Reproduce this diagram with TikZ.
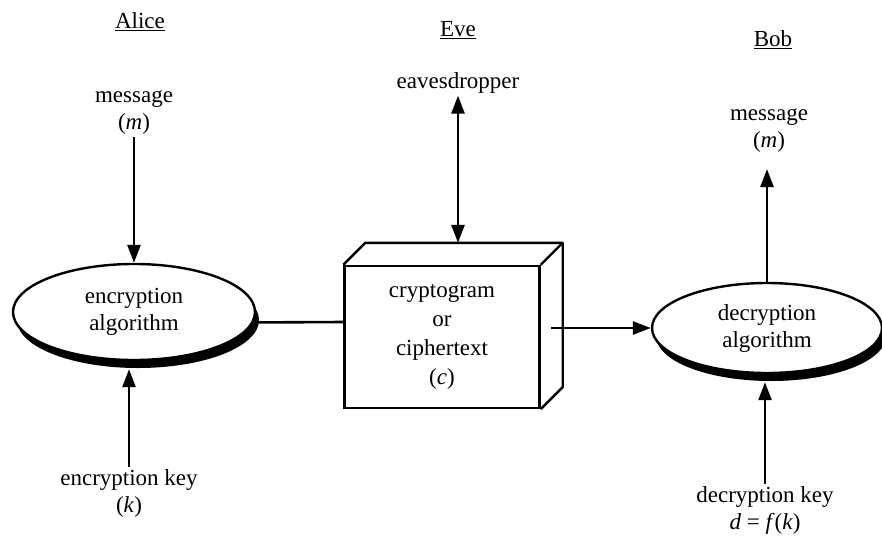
\documentclass[tikz,border=0pt]{standalone}
\usepackage{fontspec}
\setmainfont{Liberation Serif}
\usetikzlibrary{arrows.meta,shapes.geometric,shadows}

\begin{document}
\begin{tikzpicture}[x=1pt,y=-1pt,font=\fontsize{23}{27}\selectfont]
	\tikzstyle{txt}=[align=center,inner sep=2pt]
	\tikzstyle{alg}=[ellipse,draw=black,line width=2.4pt,fill=white,align=center,inner sep=0pt,
		drop shadow={shadow xshift=4pt,shadow yshift=-8pt,fill=black,opacity=1}]
	\tikzstyle{arr}=[line width=2.6pt,-{Triangle[length=18pt,width=13pt]}]
	\tikzstyle{dblarr}=[line width=2.6pt,{Triangle[length=18pt,width=13pt]}-{Triangle[length=18pt,width=13pt]}]
	\useasboundingbox (0,0) rectangle (882,538);

	% the three parties
	\node[txt](alice) at (140,22){\underline{Alice}};
	\node[txt](eve) at (458,30){\underline{Eve}};
	\node[txt](bob) at (773,40){\underline{Bob}};

	% Alice
	\node[txt](msgA) at (134,113){message\\(\textit{m})};
	\node[alg,minimum width=242pt,minimum height=96pt](encalg) at (134,312){encryption\\algorithm};
	\node[txt](enckey) at (129,493){encryption key\\(\textit{k})};

	% Eve and the channel
	\node[txt](eaves) at (458,83){eavesdropper};
	\node[txt,draw=black,line width=2.4pt,minimum width=195pt,minimum height=142pt,
		font=\fontsize{23}{29}\selectfont](crypto) at (442,337){cryptogram\\or\\ciphertext\\(\textit{c})};
	\draw[line width=2.4pt,line join=round] (crypto.north west) -- ++(22,-22)
		-| ([shift={(22,-22)}]crypto.south east) -- (crypto.south east);
	\draw[line width=2.4pt] (crypto.north east) -- ++(22,-22);
	\coordinate (cryptotop) at ([shift={(11,-22)}]crypto.north);

	% Bob
	\node[alg,minimum width=230pt,minimum height=90pt](decalg) at (767,328){decryption\\algorithm};
	\node[txt](msgB) at (769,131){message\\(\textit{m})};
	\node[txt](deckey) at (765,510){decryption key\\\textit{d} = \textit{f}(\textit{k})};

	\path[-]
		(msgA) edge[arr] (encalg)
		(enckey.north) edge[arr,shorten >=8pt] (enckey.north |- encalg.south)
		(encalg.-5) edge[line width=2.6pt] ([yshift=15pt]crypto.west)
		(eaves) edge[dblarr] (eaves.south |- cryptotop)
		([shift={(10,-9)}]crypto.east) edge[arr] (decalg)
		(decalg.north) edge[arr,shorten >=14pt] (decalg.north |- msgB.south)
		(deckey.north) edge[arr,shorten >=8pt] (deckey.north |- decalg.south);
\end{tikzpicture}
\end{document}
